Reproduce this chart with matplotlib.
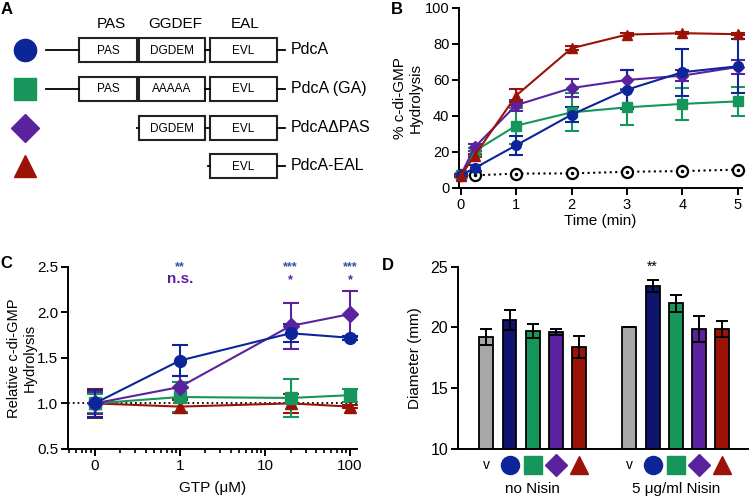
import numpy as np
import matplotlib.pyplot as plt
from matplotlib.patches import Rectangle

plt.rcParams['font.family'] = ['Liberation Sans', 'DejaVu Sans']

blue = '#0c2598'
green = '#16965a'
purple = '#5b22a0'
red = '#9b1308'
gray = '#a8a8a8'
navy = '#0e1470'

# panel A
constructs = ['PdcA', 'PdcA (GA)', 'PdcA\u0394PAS', 'PdcA-EAL']
domains = ['PAS', 'GGDEF', 'EAL']
domain_text = [['PAS', 'DGDEM', 'EVL'],
               ['PAS', 'AAAAA', 'EVL'],
               ['', 'DGDEM', 'EVL'],
               ['', '', 'EVL']]

# panel B
time = [0, 0.25, 1, 2, 3, 4, 5]
b_pdca = [7, 11, 23.7, 40.7, 54.6, 64.3, 67.6]
b_pdca_err = [1, 1.5, 5.2, 4.2, 11, 13, 15]
b_ga = [7, 20.4, 34.6, 42, 44.8, 46.7, 48.1]
b_ga_err = [1, 2, 10, 10.5, 10, 8.8, 8]
b_dpas = [7, 22.6, 46, 55.5, 60, 62.4, 67.2]
b_dpas_err = [1, 2, 3, 5, 5.5, 3, 4]
b_eal = [6.5, 18, 51.3, 77.6, 85.2, 86, 85.4]
b_eal_err = [0.5, 1, 3.5, 1, 1, 0.5, 0.5]
b_ctrl = [7, 7, 8, 8.1, 9, 9.4, 10.2]

# panel C (0 uM drawn one decade below 1)
gtp = [0.1, 1, 20, 100]
gtp_ticks = [0.1, 1, 10, 100]
gtp_labels = ['0', '1', '10', '100']
c_pdca = [1.0, 1.47, 1.77, 1.72]
c_pdca_err = [0.15, 0.17, 0.1, 0.02]
c_dpas = [1.0, 1.18, 1.85, 1.98]
c_dpas_err = [0.12, 0.12, 0.25, 0.25]
c_ga = [1.0, 1.07, 1.06, 1.09]
c_ga_err = [0.1, 0.16, 0.21, 0.07]
c_eal = [1.0, 0.965, 1.0, 0.965]
c_eal_err = [0.16, 0.07, 0.1, 0.02]
c_sig_blue = ['**', '***', '***']
c_sig_purple = ['n.s.', '*', '*']

# panel D
d_groups = ['no Nisin', '5 \u03bcg/ml Nisin']
d_no = [19.2, 20.6, 19.7, 19.6, 18.4]
d_no_err = [0.65, 0.8, 0.6, 0.25, 0.9]
d_nisin = [20.0, 23.4, 22.0, 19.85, 19.85]
d_nisin_err = [0, 0.5, 0.7, 1.1, 0.65]

colors = [blue, green, purple, red]
markers = ['o', 's', 'D', '^']

fig = plt.figure(figsize=(7.5, 4.96), dpi=100)

# ---- panel A, drawn in pixel coordinates
axA = fig.add_axes([0, 0, 1, 1])
axA.set_xlim(0, 750)
axA.set_ylim(496, 0)
axA.axis('off')

for x, name in zip([111, 175, 245], domains):
    axA.text(x, 24, name, ha='center', va='center', fontsize=11)

box_x = [(79, 137), (139, 205), (210, 277)]
rows_y = [50, 89, 128, 166]
for i, y in enumerate(rows_y):
    axA.plot(25, y, marker=markers[i], color=colors[i], ms=16 if i != 2 else 14,
             clip_on=False)
    texts = domain_text[i]
    if i < 2:
        axA.plot([46, 79], [y, y], color='k', lw=1.3)
    for (x0, x1), t in zip(box_x, texts):
        if t == '':
            continue
        axA.add_patch(Rectangle((x0, y - 12), x1 - x0, 24, fill=False,
                                ec='#222222', lw=1.5))
        axA.text((x0 + x1) / 2, y + 0.5, t, ha='center', va='center',
                 fontsize=8.5, family=['Liberation Sans Narrow', 'Liberation Sans'])
    if i < 3:
        axA.plot([205, 210], [y, y], color='k', lw=1.3)
    if i == 2:
        axA.plot([137, 139], [y, y], color='k', lw=1.3)
    if i == 3:
        axA.plot([208, 210], [y, y], color='k', lw=1.3)
    axA.plot([277, 285], [y, y], color='k', lw=1.3)
    axA.text(291, y, constructs[i], ha='left', va='center', fontsize=11.5)

for x, y, s in [(7, 10, 'A'), (397, 9, 'B'), (6, 263, 'C'), (388, 265, 'D')]:
    axA.text(x, y, s, ha='center', va='center', fontsize=12, fontweight='bold')


def style(ax, fs):
    for s in ['top', 'right']:
        ax.spines[s].set_visible(False)
    for s in ['left', 'bottom']:
        ax.spines[s].set_linewidth(1.4)
    ax.tick_params(width=1.4, length=5, labelsize=fs, pad=2)
    ax.tick_params(which='minor', width=1.2, length=3)


# ---- panel B
axB = fig.add_axes([0.612, 0.621, 0.377, 0.363])
axB.plot(time, b_ctrl, ':', color='k', lw=1.5, marker='o', ms=8, mfc='white',
         mew=1.6, clip_on=False, zorder=3)
axB.plot(time, b_ctrl, 'o', color='k', ms=1.5, clip_on=False, zorder=3)
for y, e, c, m in [(b_ga, b_ga_err, green, 's'), (b_dpas, b_dpas_err, purple, 'D'),
                   (b_pdca, b_pdca_err, blue, 'o'), (b_eal, b_eal_err, red, '^')]:
    axB.errorbar(time, y, yerr=e, color=c, marker=m, ms=7 if m != 'D' else 6.5,
                 lw=1.5, elinewidth=1.5, capsize=5, capthick=1.5, clip_on=False,
                 zorder=4)
axB.set_xlim(-0.03, 5.07)
axB.set_ylim(0, 100)
axB.set_xticks(range(6))
axB.set_yticks(range(0, 101, 20))
axB.set_xlabel('Time (min)', fontsize=11, labelpad=2)
axB.set_ylabel('% c-di-GMP\nHydrolysis', fontsize=11)
axB.yaxis.set_label_coords(-0.127, 0.5)
style(axB, 10.5)

# ---- panel C
axC = fig.add_axes([0.0907, 0.0948, 0.385, 0.3675])
axC.set_xscale('log')
axC.axhline(1.0, xmin=0, xmax=1, color='k', ls=':', lw=1.3, zorder=1)
for y, e, c, m in [(c_eal, c_eal_err, red, '^'), (c_ga, c_ga_err, green, 's'),
                   (c_dpas, c_dpas_err, purple, 'D'), (c_pdca, c_pdca_err, blue, 'o')]:
    axC.errorbar(gtp, y, yerr=e, color=c, marker=m, ms=8.5 if m != 'D' else 8,
                 lw=1.5, elinewidth=1.5, capsize=6, capthick=1.5, clip_on=False,
                 zorder=4)
for x, sb, sp in zip(gtp[1:], c_sig_blue, c_sig_purple):
    axC.text(x, 2.5, sb, color=blue, ha='center', va='center', fontsize=9,
             fontweight='bold', alpha=0.8)
    axC.text(x, 2.36 if sp == 'n.s.' else 2.35, sp, color=purple, ha='center',
             va='center', fontsize=11 if sp == 'n.s.' else 9, fontweight='bold')
axC.set_xlim(0.0486, 120)
axC.set_ylim(0.5, 2.5)
axC.set_xticks(gtp_ticks)
axC.set_xticklabels(gtp_labels)
axC.set_yticks([0.5, 1.0, 1.5, 2.0, 2.5])
axC.set_xlabel('GTP (\u03bcM)', fontsize=11, labelpad=6)
axC.set_ylabel('Relative c-di-GMP\nHydrolysis', fontsize=10.5)
axC.yaxis.set_label_coords(-0.107, 0.5)
style(axC, 11)

# ---- panel D
axD = fig.add_axes([0.6107, 0.0954, 0.3867, 0.367])
pos1 = np.arange(5)
pos2 = np.arange(5) + 6.14
bar_colors = [gray, navy, green, purple, red]
axD.bar(pos1, [v - 10 for v in d_no], bottom=10, width=0.6, color=bar_colors,
        edgecolor='k', lw=1.3, yerr=d_no_err, capsize=4,
        error_kw=dict(elinewidth=1.4, capthick=1.4))
axD.bar(pos2, [v - 10 for v in d_nisin], bottom=10, width=0.6, color=bar_colors,
        edgecolor='k', lw=1.3, yerr=d_nisin_err, capsize=4,
        error_kw=dict(elinewidth=1.4, capthick=1.4))
axD.text(pos2[1], 25, '**', ha='center', va='center', fontsize=10)
trans = axD.get_xaxis_transform()
for pos in [pos1, pos2]:
    axD.text(pos[0], -0.09, 'v', ha='center', va='center', fontsize=10,
             transform=trans)
    for p, c, m in zip(pos[1:], colors, markers):
        axD.plot(p, -0.09, marker=m, color=c, ms=13 if m != 'D' else 11.5,
                 transform=trans, clip_on=False)
for pos, g in zip([pos1, pos2], d_groups):
    axD.text(pos[2], -0.22, g, ha='center', va='center', fontsize=11,
             transform=trans)
axD.set_xlim(-1.21, 11.24)
axD.set_ylim(10, 25)
axD.set_yticks([10, 15, 20, 25])
axD.set_xticks([])
axD.set_ylabel('Diameter (mm)', fontsize=11)
axD.yaxis.set_label_coords(-0.124, 0.5)
style(axD, 11.5)

fig.savefig('out.png', dpi=100)
